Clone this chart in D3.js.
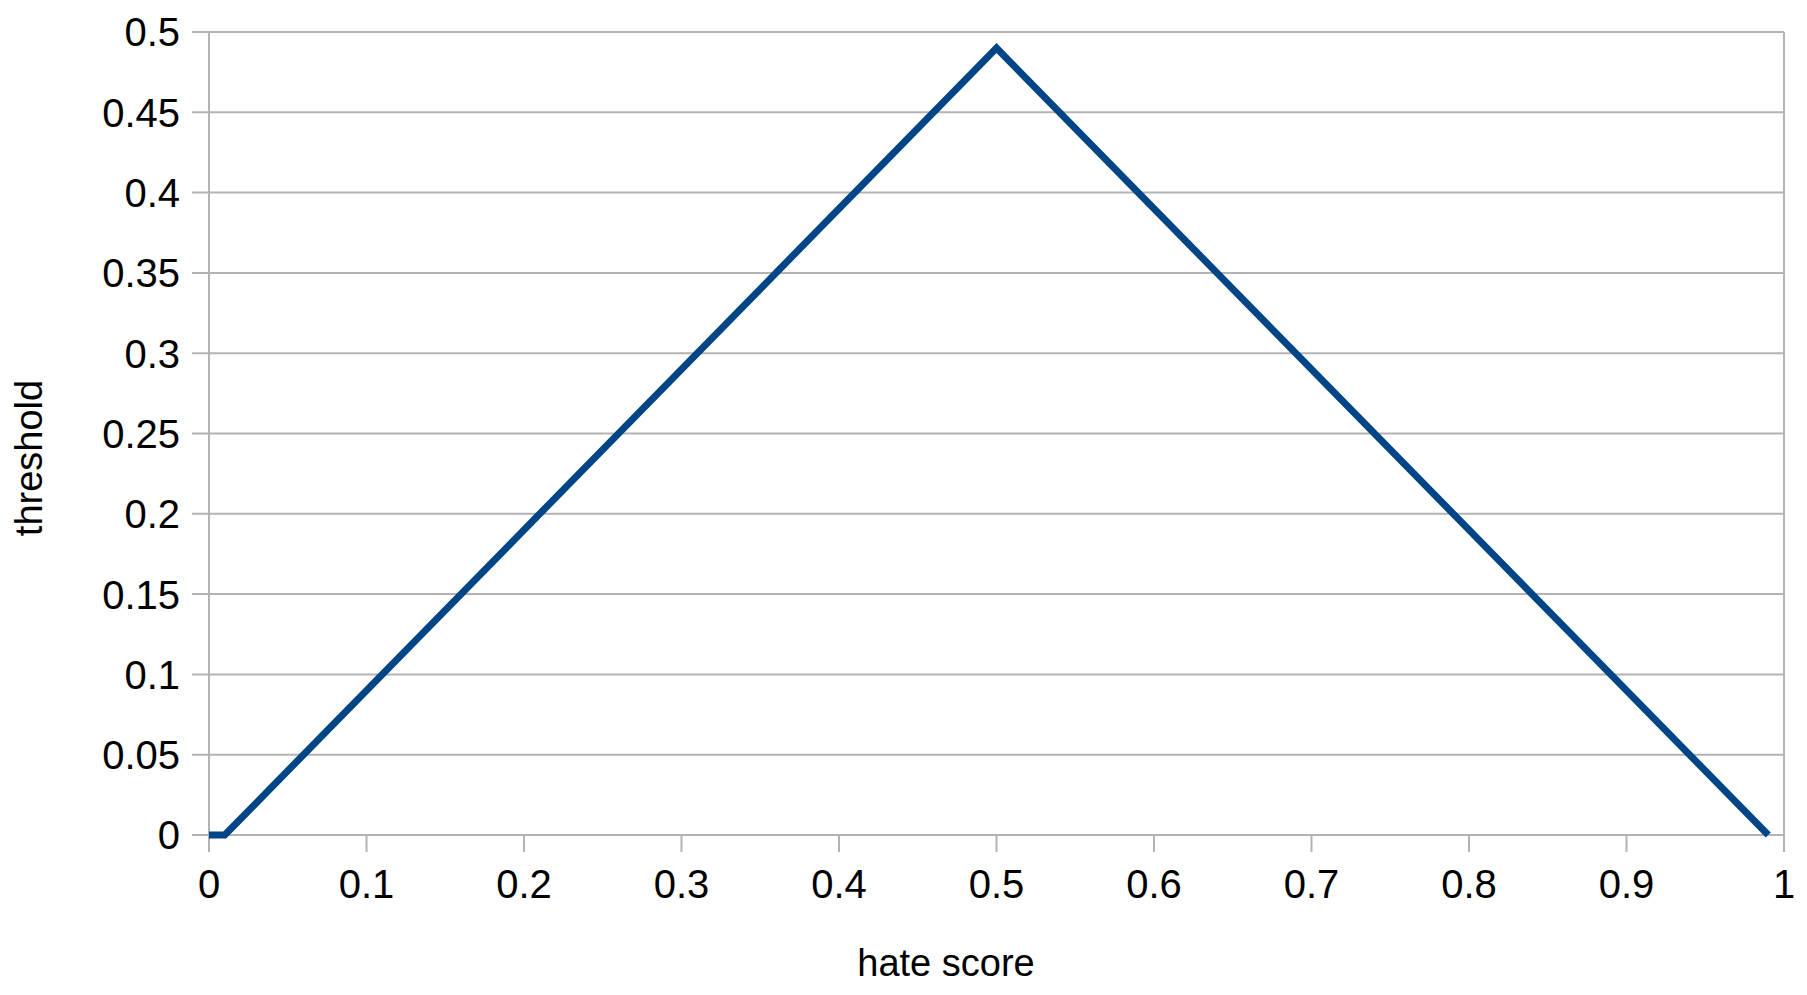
<!DOCTYPE html>
<html>
<head>
<meta charset="utf-8">
<script src="https://cdn.jsdelivr.net/npm/d3@7"></script>
<style>
  html, body { margin: 0; padding: 0; background: #fff; }
  svg text { font-family: "Liberation Sans", Arial, sans-serif; fill: #000; }
</style>
</head>
<body>
<svg id="chart" width="1807" height="995"></svg>
<script>
// data
const hateScore = [0, 0.01, 0.5, 0.99];
const threshold = [0, 0, 0.49, 0];
const xTicks = [0, 0.1, 0.2, 0.3, 0.4, 0.5, 0.6, 0.7, 0.8, 0.9, 1];
const yTicks = [0, 0.05, 0.1, 0.15, 0.2, 0.25, 0.3, 0.35, 0.4, 0.45, 0.5];

const svg = d3.select("#chart");

const plotLeft = 209, plotRight = 1784,
    plotTop = 32, plotBottom = 835;

const x = d3.scaleLinear().domain([0, 1]).range([plotLeft, plotRight]);
const y = d3.scaleLinear().domain([0, 0.5]).range([plotBottom, plotTop]);

const gridColor = "#b3b3b3";

// horizontal gridlines (extend left as outer ticks)
svg.append("g")
    .selectAll("line")
    .data(yTicks)
    .join("line")
        .attr("x1", plotLeft - 17)
        .attr("x2", plotRight)
        .attr("y1", d => y(d))
        .attr("y2", d => y(d))
        .attr("stroke", gridColor)
        .attr("stroke-width", 2)
;

// y axis line + right border
svg.append("line")
    .attr("x1", plotLeft).attr("x2", plotLeft)
    .attr("y1", plotTop).attr("y2", plotBottom + 17)
    .attr("stroke", gridColor).attr("stroke-width", 2);

svg.append("line")
    .attr("x1", plotRight).attr("x2", plotRight)
    .attr("y1", plotTop).attr("y2", plotBottom + 17)
    .attr("stroke", gridColor).attr("stroke-width", 2);

// x ticks below axis
svg.append("g")
    .selectAll("line")
    .data(xTicks)
    .join("line")
        .attr("x1", d => x(d))
        .attr("x2", d => x(d))
        .attr("y1", plotBottom)
        .attr("y2", plotBottom + 17)
        .attr("stroke", gridColor)
        .attr("stroke-width", 2)
;

// y tick labels
svg.append("g")
    .selectAll("text")
    .data(yTicks)
    .join("text")
        .attr("x", 180)
        .attr("y", d => y(d))
        .attr("dy", "0.36em")
        .attr("text-anchor", "end")
        .attr("font-size", 40)
        .text(d => String(d))
;

// x tick labels
svg.append("g")
    .selectAll("text")
    .data(xTicks)
    .join("text")
        .attr("x", d => x(d))
        .attr("y", 898)
        .attr("text-anchor", "middle")
        .attr("font-size", 40)
        .text(d => String(d))
;

// axis titles
svg.append("text")
    .attr("x", 946)
    .attr("y", 976)
    .attr("text-anchor", "middle")
    .attr("font-size", 38)
    .text("hate score");

svg.append("text")
    .attr("transform", "translate(42,458) rotate(-90)")
    .attr("text-anchor", "middle")
    .attr("font-size", 38)
    .text("threshold");

// the series
const line = d3.line()
    .x(d => x(d[0]))
    .y(d => y(d[1]));

svg.append("path")
    .datum(d3.zip(hateScore, threshold))
    .attr("d", line)
    .attr("fill", "none")
    .attr("stroke", "#004586")
    .attr("stroke-width", 7)
    .attr("stroke-linejoin", "miter")
    .attr("stroke-linecap", "butt");
</script>
</body>
</html>
